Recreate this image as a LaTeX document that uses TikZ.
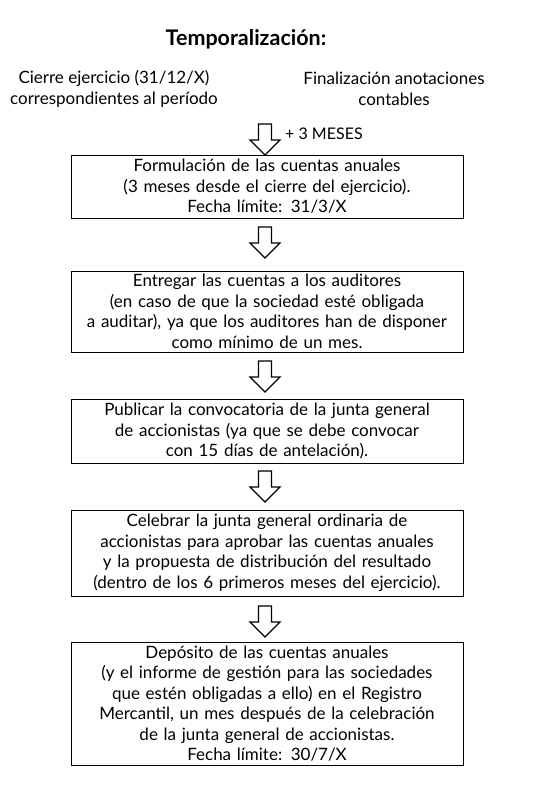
\documentclass[tikz,border=0pt]{standalone}
\usepackage{fontspec}
\setmainfont{Lato}
\usepackage{tikz}
\usetikzlibrary{calc}

\tikzset{
  caja/.style={draw, line width=1pt, minimum width=392pt, text width=386pt, align=center, inner sep=0pt,
    font=\fontsize{17}{20.5}\selectfont},
  texto/.style={align=center, inner sep=0pt, font=\fontsize{17}{21.5}\selectfont},
  pics/flecha/.style={code={
    \draw[line width=1.1pt, line join=miter, fill=white]
      (-6.5,0) -- (6.5,0) -- (6.5,16) -- (15,16) -- (0,31) -- (-15,16) -- (-6.5,16) -- cycle;}}
}

\begin{document}
\begin{tikzpicture}[x=1pt, y=-1pt]
            \useasboundingbox (0,0) rectangle (536,790);

            \node[texto, font=\fontsize{21.5}{25}\bfseries] (titulo) at (246,39) {Temporalización:};
            \node[texto] (cierre) at (114,89) {Cierre ejercicio (31/12/X)\\correspondientes al período};
            \node[texto] (final) at (394,89) {Finalización anotaciones\\contables};

            \node[caja, minimum height=63pt] (formular) at (267,186.5) {Formulación de las cuentas anuales\\(3 meses desde el cierre del ejercicio).\\Fecha límite: 31/3/X};
            \node[caja, minimum height=81pt] (auditores) at (267,311.5) {Entregar las cuentas a los auditores\\(en caso de que la sociedad esté obligada\\a auditar), ya que los auditores han de disponer\\como mínimo de un mes.};
            \node[caja, minimum height=64pt] (convocar) at (267,431) {Publicar la convocatoria de la junta general\\de accionistas (ya que se debe convocar\\con 15 días de antelación).};
            \node[caja, minimum height=86pt] (junta) at (267,553) {Celebrar la junta general ordinaria de\\accionistas para aprobar las cuentas anuales\\y la propuesta de distribución del resultado\\(dentro de los 6 primeros meses del ejercicio).};
            \node[caja, minimum height=123pt] (deposito) at (267,703.5) {Depósito de las cuentas anuales\\(y el informe de gestión para las sociedades\\que estén obligadas a ello) en el Registro\\Mercantil, un mes después de la celebración\\de la junta general de accionistas.\\Fecha límite: 30/7/X};

            % flechas entre las cajas
            \pic at (265,124) {flecha};
            \node[texto, anchor=west, font=\fontsize{16}{20}\selectfont] (meses) at (285,134) {+ 3 MESES};
            \pic at (265,227) {flecha};
            \pic at (265,361) {flecha};
            \pic at (265,471) {flecha};
            \pic at (265,606) {flecha};

        \end{tikzpicture}
\end{document}
